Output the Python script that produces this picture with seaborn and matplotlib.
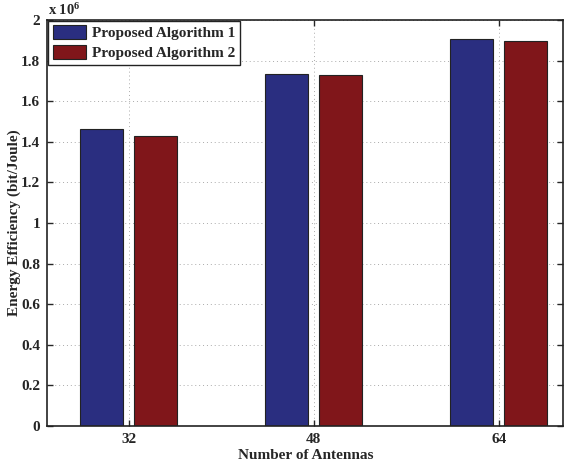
import numpy as np
import pandas as pd
import matplotlib
matplotlib.use('Agg')
import matplotlib.pyplot as plt
import seaborn as sns

# 数据
antennas = ['32', '48', '64']
alg1 = [1.462, 1.733, 1.906]   # x 10^6
alg2 = [1.427, 1.728, 1.898]
series = ['Proposed Algorithm 1', 'Proposed Algorithm 2']
yticks = np.arange(0, 2.01, 0.2)
ytick_labels = ['0', '0.2', '0.4', '0.6', '0.8', '1', '1.2', '1.4', '1.6', '1.8', '2']

df = pd.DataFrame({'antennas': antennas * 2,
                   'ee': alg1 + alg2,
                   'alg': [series[0]] * 3 + [series[1]] * 3})

sns.set_style('ticks')
plt.rcParams['font.family'] = ['Liberation Serif', 'DejaVu Serif']
plt.rcParams['font.weight'] = 'bold'
plt.rcParams['font.size'] = 11
plt.rcParams['mathtext.fontset'] = 'custom'
plt.rcParams['mathtext.rm'] = 'Liberation Serif:bold'
plt.rcParams['mathtext.it'] = 'Liberation Serif:bold'
plt.rcParams['mathtext.bf'] = 'Liberation Serif:bold'

fig = plt.figure(figsize=(5.65, 4.65), dpi=100)
ax = fig.add_axes([0.0837, 0.0839, 0.9135, 0.873])

sns.barplot(data=df, x='antennas', y='ee', hue='alg', hue_order=series,
            palette=['#2a2e80', '#80161a'], width=0.584, gap=0.2,
            edgecolor='#222222', linewidth=0.8, saturation=1, ax=ax)

ax.set_xlim(-0.44, 2.35)
ax.set_ylim(0, 2)
ax.set_yticks(yticks)
ax.set_yticklabels(ytick_labels)
ax.tick_params(direction='in', length=4, width=1, top=True, right=True,
               labelsize=11, pad=5)
for lab in ax.get_xticklabels() + ax.get_yticklabels():
    lab.set_fontweight('bold')

ax.grid(True, linestyle=(0, (1, 3)), color='#aaaaaa', linewidth=0.7)
ax.set_axisbelow(True)
for s in ax.spines.values():
    s.set_linewidth(1.2)
    s.set_color('#222222')

ax.set_xlabel('Number of Antennas', fontweight='bold', fontsize=11, labelpad=2)
ax.set_ylabel('Energy Efficiency (bit/Joule)', fontweight='bold', fontsize=11)
ax.yaxis.set_label_coords(-0.05, 0.5)

# 科学计数标记
fig.text(0.085, 1 - 15 / 465, r'x 10$^{6}$', fontsize=10.5, fontweight='bold',
         ha='left', va='baseline')

leg = ax.legend(loc='upper left', borderaxespad=0.05, fancybox=False, framealpha=1,
                edgecolor='#222222', handlelength=2.2, handleheight=1.0,
                labelspacing=0.3, handletextpad=0.35, borderpad=0.3,
                prop={'weight': 'bold', 'size': 11})
leg.get_frame().set_linewidth(1.0)
leg.set_title(None)

plt.savefig('out.png', dpi=100)
